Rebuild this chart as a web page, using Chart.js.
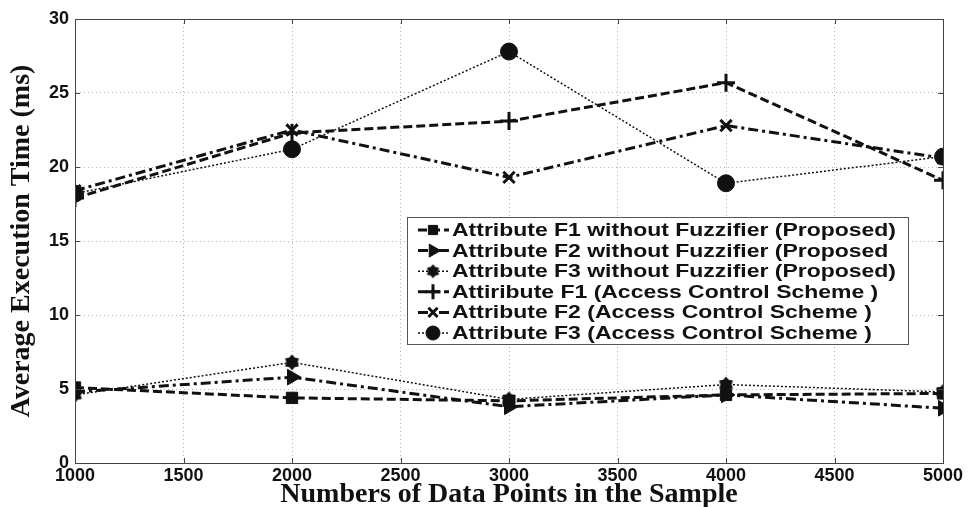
<!DOCTYPE html>
<html>
<head>
<meta charset="utf-8">
<script src="https://cdn.jsdelivr.net/npm/chart.js@4.4.0/dist/chart.umd.min.js"></script>
<style>
  html, body { margin: 0; background: #fff; }
  #wrap { width: 980px; height: 507px; }
</style>
</head>
<body>
<div id="wrap"><canvas id="myChart"></canvas></div>
<script>
// values
const sampleSizes = [1000, 2000, 3000, 4000, 5000];
const f1Proposed = [5.1, 4.4, 4.2, 4.6, 4.7];
const f2Proposed = [4.8, 5.8, 3.8, 4.6, 3.7];
const f3Proposed = [4.6, 6.8, 4.3, 5.3, 4.8];
const f1Access = [17.9, 22.3, 23.1, 25.7, 19.1];
const f2Access = [18.4, 22.5, 19.3, 22.8, 20.6];
const f3Access = [18.2, 21.2, 27.8, 18.9, 20.7];

const seriesLabels = [
  "Attribute F1 without Fuzzifier (Proposed)",
  "Attribute F2 without Fuzzifier (Proposed",
  "Attribute F3 without Fuzzifier (Proposed)",
  "Attiribute F1 (Access Control Scheme )",
  "Attribute F2 (Access Control Scheme )",
  "Attribute F3 (Access Control Scheme )",
];
const xTickValues = [1000, 1500, 2000, 2500, 3000, 3500, 4000, 4500, 5000];
const yTickValues = [0, 5, 10, 15, 20, 25, 30];

// filled hexagram marker (matlab 'h')
function makeHexagram(size) {
  const cv = document.createElement("canvas");
  cv.width = size; cv.height = size;
  const g = cv.getContext("2d");
  const c = size / 2, r = size / 2 - 0.5;
  g.fillStyle = "#111";
  g.beginPath();
  for (let i = 0; i < 12; i++) {
    const a = (Math.PI / 6) * i - Math.PI / 2;
    const rr = i % 2 === 0 ? r : r * 0.7;
    const px = c + rr * Math.cos(a), py = c + rr * Math.sin(a);
    if (i === 0) g.moveTo(px, py); else g.lineTo(px, py);
  }
  g.closePath();
  g.fill();
  return cv;
}
const hexagram = makeHexagram(17);
const hexagramSmall = makeHexagram(15);

const BLACK = "#111";
const dashed = [9, 4];
const dashDot = [10, 4, 3, 4];
const dotted = [2, 2];

const makeSet = (label, values, dash, width, style, radius, extra) => Object.assign({
  label,
  data: values.map((v, i) => ({ x: sampleSizes[i], y: v })),
  borderColor: BLACK,
  backgroundColor: BLACK,
  borderWidth: width,
  borderDash: dash,
  pointStyle: style,
  pointRadius: radius,
  pointBorderColor: BLACK,
  pointBackgroundColor: BLACK,
  pointBorderWidth: 1,
  tension: 0,
}, extra || {});

const datasets = [
  makeSet(seriesLabels[0], f1Proposed, dashed, 3, "rect", 8),
  makeSet(seriesLabels[1], f2Proposed, dashDot, 3, "triangle", 9, { pointRotation: 90 }),
  makeSet(seriesLabels[2], f3Proposed, dotted, 1.5, hexagram, 8, { legendStyle: hexagramSmall }),
  makeSet(seriesLabels[3], f1Access, dashed, 3, "cross", 9, { pointBorderWidth: 3 }),
  makeSet(seriesLabels[4], f2Access, dashDot, 3, "crossRot", 8, { pointBorderWidth: 3 }),
  makeSet(seriesLabels[5], f3Access, dotted, 1.5, "circle", 8.5),
];

// box around plot, small inward ticks, legend inside the axes
const framePlugin = {
  id: "frame",
  afterDatasetsDraw(chart) {
    const { ctx, chartArea: a, scales } = chart;
    ctx.save();
    ctx.strokeStyle = "#444";
    ctx.lineWidth = 1;
    ctx.setLineDash([]);
    ctx.strokeRect(a.left + 0.5, a.top + 0.5, a.right - a.left, a.bottom - a.top);
    ctx.beginPath();
    xTickValues.forEach((v) => {
      const px = Math.round(scales.x.getPixelForValue(v)) + 0.5;
      ctx.moveTo(px, a.bottom); ctx.lineTo(px, a.bottom - 5);
      ctx.moveTo(px, a.top); ctx.lineTo(px, a.top + 5);
    });
    yTickValues.forEach((v) => {
      const py = Math.round(scales.y.getPixelForValue(v)) + 0.5;
      ctx.moveTo(a.left, py); ctx.lineTo(a.left + 5, py);
      ctx.moveTo(a.right, py); ctx.lineTo(a.right - 5, py);
    });
    ctx.stroke();

    const box = { x: 407, y: 217, w: 501, h: 127 };
    ctx.fillStyle = "#fff";
    ctx.fillRect(box.x, box.y, box.w, box.h);
    ctx.strokeStyle = "#555";
    ctx.strokeRect(box.x + 0.5, box.y + 0.5, box.w, box.h);

    ctx.font = "bold 18px 'Liberation Sans', Arial, sans-serif";
    ctx.textBaseline = "middle";
    // the original text is wide; stretch to match its first row
    const sx = 444 / ctx.measureText(seriesLabels[0]).width;
    chart.data.datasets.forEach((ds, i) => {
      const y = 230 + i * 20.6;
      ctx.strokeStyle = BLACK;
      ctx.lineWidth = ds.borderWidth;
      ctx.setLineDash(ds.borderDash);
      ctx.beginPath();
      ctx.moveTo(418, y);
      ctx.lineTo(449, y);
      ctx.stroke();
      ctx.setLineDash([]);
      ctx.fillStyle = BLACK;
      ctx.lineWidth = ds.pointBorderWidth;
      Chart.helpers.drawPoint(ctx, {
        pointStyle: ds.legendStyle || ds.pointStyle,
        radius: ds.pointRadius - 1.5,
        rotation: ds.pointRotation || 0,
        borderWidth: ds.pointBorderWidth,
      }, 433, y);
      ctx.fillStyle = BLACK;
      ctx.save();
      ctx.translate(452, y + 1);
      ctx.scale(sx, 1);
      ctx.fillText(ds.label, 0, 0);
      ctx.restore();
    });
    ctx.restore();
  },
};

const tickFont = { family: "'Liberation Sans', Arial, sans-serif", size: 18, weight: "bold", lineHeight: 1.0 };
const titleFont = { family: "'Liberation Serif', 'Times New Roman', serif", size: 28, weight: "bold", lineHeight: 0.9 };

new Chart(document.getElementById("myChart").getContext("2d"), {
  type: "line",
  data: { datasets },
  options: {
    responsive: true,
    maintainAspectRatio: false,
    animation: false,
    layout: { padding: { top: 19, right: 37, left: 0, bottom: 0 } },
    plugins: { legend: { display: false }, tooltip: { enabled: false } },
    scales: {
      x: {
        type: "linear",
        min: 1000,
        max: 5000,
        afterBuildTicks: (s) => { s.ticks = xTickValues.map((v) => ({ value: v })); },
        afterFit: (s) => { s.height = 44; },
        ticks: { color: "#111", font: tickFont, padding: 4, maxRotation: 0, autoSkip: false, callback: (v) => String(v) },
        grid: { color: "#b5b5b5", lineWidth: 1, drawTicks: false },
        border: { color: "#444", dash: [1, 3] },
        title: { display: true, text: "Numbers of Data Points in the Sample", color: "#111", font: titleFont, padding: { top: 0, bottom: 0 } },
      },
      y: {
        min: 0,
        max: 30,
        afterBuildTicks: (s) => { s.ticks = yTickValues.map((v) => ({ value: v })); },
        afterFit: (s) => { s.width = 75; },
        ticks: { color: "#111", font: tickFont, padding: 6 },
        grid: { color: "#b5b5b5", lineWidth: 1, drawTicks: false },
        border: { color: "#444", dash: [1, 3] },
        title: { display: true, text: "Average Execution Time (ms)", color: "#111", font: titleFont, padding: { top: 9, bottom: 0 } },
      },
    },
  },
  plugins: [framePlugin],
});
</script>
</body>
</html>
